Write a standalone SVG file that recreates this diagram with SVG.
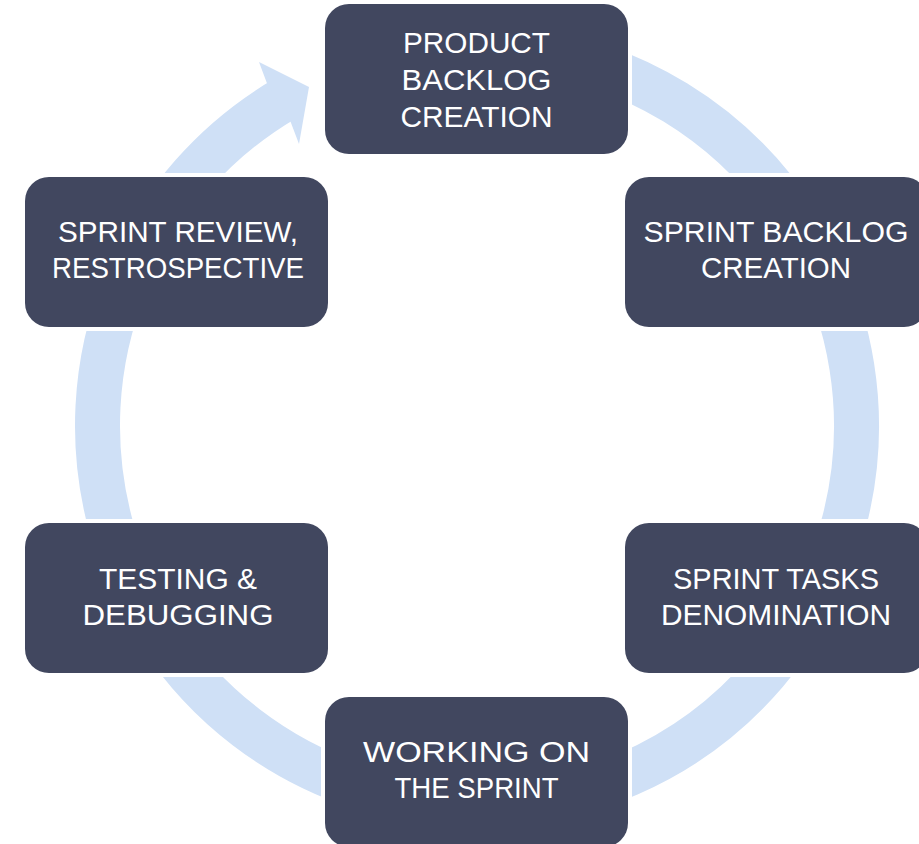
<svg xmlns="http://www.w3.org/2000/svg" width="919" height="844" viewBox="0 0 919 844">
  <style>
    .box { fill: #41475f; stroke: #ffffff; stroke-width: 8; paint-order: stroke; }
    .lbl { fill: #ffffff; font-family: "Liberation Sans", Arial, sans-serif; font-size: 30px; text-anchor: middle; }
    .ring { fill: none; stroke: #cfe0f6; stroke-width: 45; }
    .head { fill: #cfe0f6; }
  </style>
  <rect width="919" height="844" fill="#ffffff"/>
  <g id="connectors">
    <path class="ring" d="M 359.73 65.07 A 379.5 379.5 0 1 1 477 805.5 A 379.5 379.5 0 0 1 284.39 99.01"/>
    <polygon class="head" points="266.95,83.24 259,62 309,87 299,144 290.47,121.61"/>
  </g>
  <g id="node-product-backlog">
    <rect class="box" x="325" y="4" width="303" height="150" rx="24"/>
    <text class="lbl" x="476.5" y="53" textLength="147" lengthAdjust="spacingAndGlyphs">PRODUCT</text>
    <text class="lbl" x="476.5" y="90" textLength="150" lengthAdjust="spacingAndGlyphs">BACKLOG</text>
    <text class="lbl" x="476.5" y="127" textLength="152" lengthAdjust="spacingAndGlyphs">CREATION</text>
  </g>
  <g id="node-sprint-backlog">
    <rect class="box" x="625" y="177" width="303" height="150" rx="24"/>
    <text class="lbl" x="776" y="242" textLength="265" lengthAdjust="spacingAndGlyphs">SPRINT BACKLOG</text>
    <text class="lbl" x="776" y="278" textLength="150" lengthAdjust="spacingAndGlyphs">CREATION</text>
  </g>
  <g id="node-sprint-tasks">
    <rect class="box" x="625" y="523" width="303" height="150" rx="24"/>
    <text class="lbl" x="776" y="589" textLength="206" lengthAdjust="spacingAndGlyphs">SPRINT TASKS</text>
    <text class="lbl" x="776" y="625" textLength="230" lengthAdjust="spacingAndGlyphs">DENOMINATION</text>
  </g>
  <g id="node-working">
    <rect class="box" x="325" y="697" width="303" height="150" rx="24"/>
    <text class="lbl" x="476.5" y="762" textLength="227" lengthAdjust="spacingAndGlyphs">WORKING ON</text>
    <text class="lbl" x="476.5" y="798" textLength="164" lengthAdjust="spacingAndGlyphs">THE SPRINT</text>
  </g>
  <g id="node-testing">
    <rect class="box" x="25" y="523" width="303" height="150" rx="24"/>
    <text class="lbl" x="178" y="589" textLength="158" lengthAdjust="spacingAndGlyphs">TESTING &amp;</text>
    <text class="lbl" x="178" y="625" textLength="191" lengthAdjust="spacingAndGlyphs">DEBUGGING</text>
  </g>
  <g id="node-sprint-review">
    <rect class="box" x="25" y="177" width="303" height="150" rx="24"/>
    <text class="lbl" x="178" y="242" textLength="240" lengthAdjust="spacingAndGlyphs">SPRINT REVIEW,</text>
    <text class="lbl" x="178" y="278" textLength="252" lengthAdjust="spacingAndGlyphs">RESTROSPECTIVE</text>
  </g>
</svg>
